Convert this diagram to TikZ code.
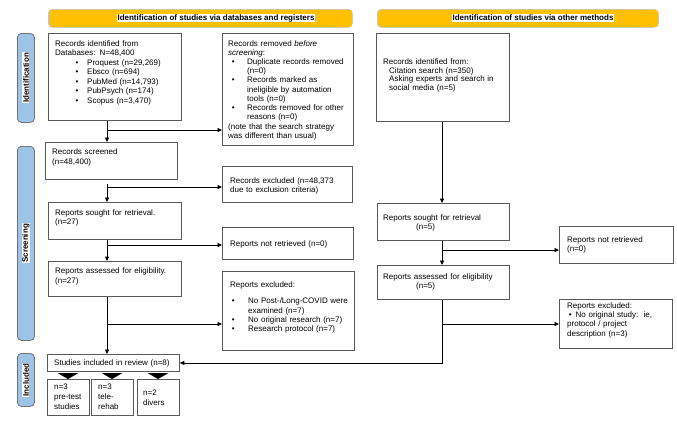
\documentclass[tikz,border=0pt]{standalone}
\usepackage{fontspec}
\setmainfont{Liberation Sans}
\usetikzlibrary{arrows.meta}
\definecolor{bannerc}{HTML}{FFC000}
\definecolor{phasec}{HTML}{9DC3E6}
\definecolor{boxline}{HTML}{595959}
\setlength{\parindent}{0pt}
\newcommand{\bul}[2]{\par\hangindent=#2pt\hangafter=1\noindent\hspace*{#1pt}\makebox[\dimexpr#2pt-#1pt\relax][l]{\textbullet}\ignorespaces}
\tikzset{
  box/.style={draw=boxline, line width=0.8pt, anchor=north west, inner sep=0pt},
  phasebox/.style={draw=black!55, fill=phasec, line width=0.8pt, rounded corners=4pt, anchor=north west, inner sep=0pt, minimum width=17pt},
  bannerbox/.style={draw=black!25, fill=bannerc, line width=0.6pt, rounded corners=4pt, anchor=north west, inner sep=0pt, minimum height=18pt},
  txt/.style={anchor=north west, inner sep=0pt, align=left, text width=#1},
  fs/.style={font=\fontsize{8}{#1}\selectfont},
  hl/.style={fill=white, inner sep=0.6pt, font=\fontsize{8}{9.6}\selectfont\bfseries},
  arr/.style={-{Triangle[length=4.5pt,width=4pt]}, line width=0.7pt},
  ln/.style={line width=0.7pt}
}
\begin{document}
\begin{tikzpicture}[x=1pt,y=-1pt]
\useasboundingbox (0,0) rectangle (677,421);

% banners
\node[bannerbox, minimum width=304pt] (B1) at (48,9) {};
\node[hl] (B1t) at (216,18) {Identification of studies via databases and registers};
\node[bannerbox, minimum width=281pt] (B2) at (377,9) {};
\node[hl] (B2t) at (533,18) {Identification of studies via other methods};

% phase labels
\node[phasebox, minimum height=89pt] (P1) at (17,33) {};
\node[hl, rotate=90] (P1t) at (P1.center) {Identification};
\node[phasebox, minimum height=194pt] (P2) at (17,146) {};
\node[hl, rotate=90] (P2t) at (P2.center) {Screening};
\node[phasebox, minimum height=53pt] (P3) at (17,353) {};
\node[hl, rotate=90] (P3t) at (P3.center) {Included};

% left column boxes
\node[box, minimum width=133pt, minimum height=87pt] (L1) at (48,33) {};
\node[txt=125pt, fs=9.5] (L1t) at (55,40) {Records identified from\break Databases: N=48,400
\bul{20.3}{32}Proquest (n=29,269)
\bul{20.3}{32}Ebsco (n=694)
\bul{20.3}{32}PubMed (n=14,793)
\bul{20.3}{32}PubPsych (n=174)
\bul{20.3}{32}Scopus (n=3,470)};

\node[box, minimum width=131pt, minimum height=112pt] (L2) at (222,33) {};
\node[txt=125pt, fs=9.23] (L2t) at (228,40) {Records removed \textit{before}\break \textit{screening}:
\bul{3.6}{19}Duplicate records removed\break (n=0)
\bul{3.6}{19}Records marked as\break ineligible by automation\break tools (n=0)
\bul{3.6}{19}Records removed for other\break reasons (n=0)
\par (note that the search strategy\break was different than usual)};

\node[box, minimum width=132pt, minimum height=37pt] (L3) at (45,142) {};
\node[txt=120pt, fs=10] (L3t) at (52,148) {Records screened\break (n=48,400)};

\node[box, minimum width=130pt, minimum height=36pt] (L4) at (222,166) {};
\node[txt=120pt, fs=9.3] (L4t) at (230,177) {Records excluded (n=48,373\break due to exclusion criteria)};

\node[box, minimum width=133pt, minimum height=37pt] (L5) at (48,202) {};
\node[txt=120pt, fs=9.5] (L5t) at (55,209) {Reports sought for retrieval.\break (n=27)};

\node[box, minimum width=131pt, minimum height=32pt] (L6) at (222,227) {};
\node[txt=120pt, fs=9.3] (L6t) at (230,240) {Reports not retrieved (n=0)};

\node[box, minimum width=133pt, minimum height=35pt] (L7) at (48,261) {};
\node[txt=120pt, fs=10] (L7t) at (55,267) {Reports assessed for eligibility.\break (n=27)};

\node[box, minimum width=132pt, minimum height=79pt] (L8) at (222,271) {};
\node[txt=125pt, fs=9.2] (L8t) at (230,281) {Reports excluded:\par\vspace{7.6pt}
\bul{1.6}{18}No Post-/Long-COVID were\break examined (n=7)
\bul{1.6}{18}No original research (n=7)
\bul{1.6}{18}Research protocol (n=7)};

% included
\node[box, minimum width=132pt, minimum height=17pt] (S) at (47,354) {};
\node[txt=125pt, fs=9.3] (St) at (54,359) {Studies included in review (n=8)};
\node[box, minimum width=42pt, minimum height=36pt] (S1) at (47,379) {};
\node[txt=40pt, fs=10] (S1t) at (54,384) {n=3\break pre-test\break studies};
\node[box, minimum width=42pt, minimum height=36pt] (S2) at (91,379) {};
\node[txt=40pt, fs=10] (S2t) at (98,384) {n=3\break tele-\break rehab};
\node[box, minimum width=42pt, minimum height=36pt] (S3) at (137,379) {};
\node[txt=40pt, fs=9.5] (S3t) at (143,390) {n=2\break divers};
\foreach \cx in {68,112,158}{
  \fill (\cx-10.5,373) -- (\cx+10.5,373) -- (\cx,379) -- cycle;
}

% right column boxes
\node[box, minimum width=133pt, minimum height=88pt] (R1) at (376,33) {};
\node[txt=125pt, fs=8.6] (R1t) at (383,58.4) {Records identified from:\par
\hspace*{6pt}Citation search (n=350)\par
\hspace*{6pt}Asking experts and search in\par
\hspace*{6pt}social media (n=5)};

\node[box, minimum width=132pt, minimum height=37pt] (R2) at (377,203) {};
\node[txt=120pt, fs=9.3] (R2t) at (383,214) {Reports sought for retrieval\par\hspace*{33pt}(n=5)};

\node[box, minimum width=114pt, minimum height=37pt] (R3) at (559,226) {};
\node[txt=105pt, fs=9.3] (R3t) at (567,236) {Reports not retrieved\break (n=0)};

\node[box, minimum width=132pt, minimum height=34pt] (R4) at (377,265) {};
\node[txt=120pt, fs=9.3] (R4t) at (383,273) {Reports assessed for eligibility\par\hspace*{33pt}(n=5)};

\node[box, minimum width=113pt, minimum height=49pt] (R5) at (559,299) {};
\node[txt=105pt, fs=9.4] (R5t) at (567,302) {Reports excluded:
\bul{1.6}{8.5}No original study:\ \ ie,\break protocol / project\break description (n=3)};

% connectors
\coordinate (cL) at (107,0);
\coordinate (cR) at (442,0);
\coordinate (b1) at (107,130);
\coordinate (b2) at (107,187);
\coordinate (b3) at (107,245);
\coordinate (b4) at (107,324);
\coordinate (b5) at (442,250);
\coordinate (b6) at (442,324);

\draw[arr] (L1.south -| cL) -- (L3.north -| cL);
\draw[arr] (b1) -- (b1 -| L2.west);
\draw[arr, shorten <=4pt] (L3.south -| cL) -- (L5.north -| cL);
\draw[arr] (b2) -- (b2 -| L4.west);
\draw[arr] (L5.south -| cL) -- (L7.north -| cL);
\draw[arr] (b3) -- (b3 -| L6.west);
\draw[arr] (L7.south -| cL) -- (S.north -| cL);
\draw[arr] (b4) -- (b4 -| L8.west);

\draw[arr] (R1.south -| cR) -- (R2.north -| cR);
\draw[arr] (R2.south -| cR) -- (R4.north -| cR);
\draw[arr] (b5) -- (b5 -| R3.west);
\draw[arr] (R4.south -| cR) -- (cR |- S.east) -- (S.east);
\draw[arr] (b6) -- (b6 -| R5.west);
\end{tikzpicture}
\end{document}
